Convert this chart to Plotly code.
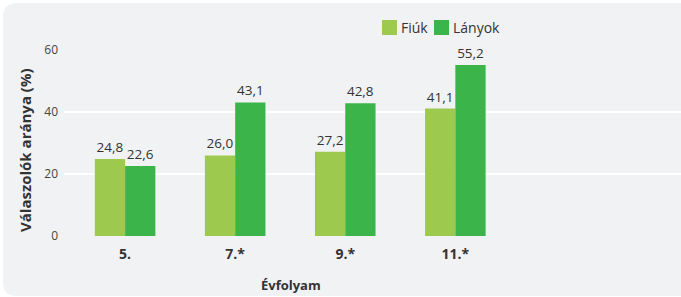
import plotly.graph_objects as go

categories = ["5.", "7.*", "9.*", "11.*"]
fiuk = [24.8, 26.0, 27.2, 41.1]
lanyok = [22.6, 43.1, 42.8, 55.2]
fiuk_labels = ["24,8", "26,0", "27,2", "41,1"]
lanyok_labels = ["22,6", "43,1", "42,8", "55,2"]
series_names = ["Fiúk", "Lányok"]
series_colors = ["#9cc94e", "#3bb44a"]
y_ticks = [0, 20, 40, 60]

W, H = 681, 297
ML, MR, MT, MB = 64, 0, 50, 61
PW = W - ML - MR
PH = H - MT - MB

def px(x):
    return (x - ML) / PW

def py(y):
    return (H - MB - y) / PH

FONT = "Open Sans, Noto Sans, sans-serif"
xs = list(range(len(categories)))

fig = go.Figure()
for name, vals, labels, color in zip(series_names, [fiuk, lanyok], [fiuk_labels, lanyok_labels], series_colors):
    fig.add_trace(go.Bar(
        name=name, x=xs, y=vals, marker_color=color, marker_line_width=0,
        text=labels, textposition="outside", cliponaxis=False, showlegend=False,
        textfont=dict(size=13.5, color="#333333", family=FONT),
    ))

# rounded panel background
r = 14
x0, x1, y0, y1 = 3, 700, 3, 296
path = (f"M {px(x0+r)},{py(y0)} L {px(x1)},{py(y0)} L {px(x1)},{py(y1)} "
        f"L {px(x0+r)},{py(y1)} Q {px(x0)},{py(y1)} {px(x0)},{py(y1-r)} "
        f"L {px(x0)},{py(y0+r)} Q {px(x0)},{py(y0)} {px(x0+r)},{py(y0)} Z")
fig.add_shape(type="path", path=path, xref="paper", yref="paper",
              fillcolor="#f1f2f4", line_width=0, layer="below")

# legend (keys + labels)
for name, color, lx in zip(series_names, series_colors, [382, 434]):
    fig.add_shape(type="rect", xref="paper", yref="paper",
                  x0=px(lx), x1=px(lx + 15), y0=py(35), y1=py(20),
                  fillcolor=color, line_width=0)
    fig.add_annotation(text=name, x=px(lx + 17), y=py(27.5), xref="paper", yref="paper",
                       showarrow=False, xanchor="left", yanchor="middle",
                       font=dict(size=14, color="#333333", family=FONT))

fig.add_annotation(text="<b>Évfolyam</b>", x=px(291), y=py(285), xref="paper", yref="paper",
                   showarrow=False, font=dict(size=13, color="#333333", family=FONT),
                   xanchor="center", yanchor="middle")
fig.add_annotation(text="<b>Válaszolók aránya (%)</b>", x=px(25), y=py(150), xref="paper", yref="paper",
                   showarrow=False, textangle=-90, font=dict(size=15, color="#333333", family=FONT),
                   xanchor="center", yanchor="middle")

fig.update_layout(
    width=W, height=H,
    margin=dict(l=ML, r=MR, t=MT, b=MB, autoexpand=False),
    paper_bgcolor="white", plot_bgcolor="rgba(0,0,0,0)",
    barmode="group", bargap=0.45, bargroupgap=0,
    showlegend=False,
    xaxis=dict(range=[-0.555, 5.05], tickvals=xs,
               ticktext=[f"<b>{c}</b>" for c in categories], showgrid=False, zeroline=False,
               showline=False, ticks="", ticklabelstandoff=8,
               tickfont=dict(size=14, color="#333333", family=FONT)),
    yaxis=dict(range=[0, 60], tickvals=y_ticks, showgrid=True, gridcolor="white", gridwidth=1.5,
               zeroline=False, showline=False, ticks="", ticklabelstandoff=5,
               tickfont=dict(size=12, color="#444444", family=FONT)),
)

fig.write_html("out.html", config={"displayModeBar": False},
               post_script="document.body.style.margin='0px';document.body.style.overflow='hidden';")
